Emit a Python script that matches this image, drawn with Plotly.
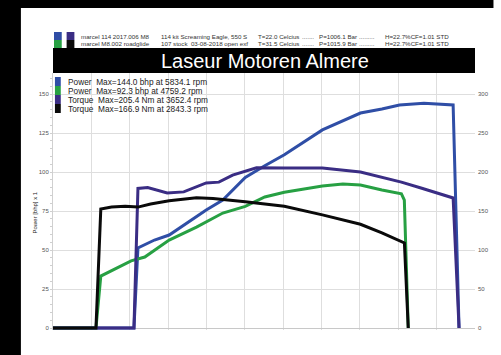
import plotly.graph_objects as go

# ---------------- data ----------------
rpm_blue = [1000, 2055, 2107, 2323, 2514, 2743, 2997, 3213, 3506, 3760, 4015, 4511,
            4778, 5007, 5287, 5516, 5834, 6011, 6215, 6292]
power_blue = [0, 0, 51.3, 56.4, 59.6, 67.3, 75.6, 82, 96.5, 104, 111, 127,
              132.7, 137.8, 140.4, 143, 144, 143.5, 143, 0]

rpm_green = [1000, 1560, 1623, 2018, 2196, 2514, 2870, 3213, 3506, 3760, 4015,
             4511, 4778, 5007, 5287, 5541, 5579, 5630]
power_green = [0, 0, 33.3, 43, 45.5, 56.4, 64.7, 73.7, 78, 84, 87,
               91, 92.3, 91.7, 88.5, 86, 82, 0]

rpm_purple = [1000, 2055, 2107, 2234, 2488, 2704, 2997, 3162, 3341, 3506, 3652,
              4015, 4511, 5007, 5287, 5541, 5796, 6215, 6292]
torque_purple = [0, 0, 179, 180, 173, 174.5, 186, 187, 196, 201, 205.4,
                 205, 205, 200, 193.6, 187, 179.5, 166.7, 0]

rpm_black = [1000, 1560, 1623, 1763, 1941, 2107, 2272, 2514, 2870, 3086, 3506,
             4015, 4511, 5007, 5287, 5580, 5630]
torque_black = [0, 0, 152.6, 155, 156, 155, 159, 163, 167, 166, 162,
                156, 145, 133, 122, 109, 0]

legend_labels = [
    "Power  Max=144.0 bhp at 5834.1 rpm",
    "Power  Max=92.3 bhp at 4759.2 rpm",
    "Torque  Max=205.4 Nm at 3652.4 rpm",
    "Torque  Max=166.9 Nm at 2843.3 rpm",
]
header_row1 = ["marcel 114 2017.006 M8", "114 kit Screaming Eagle, 550 S",
               "T=22.0 Celcius", ".......", "P=1006.1 Bar", ".........", "H=22.7%CF=1.01 STD"]
header_row2 = ["marcel M8.002 roadglide", "107 stock  03-08-2018 open exf",
               "T=31.5 Celcius", ".......", "P=1015.9 Bar", ".........", "H=22.7%CF=1.01 STD"]
title_text = "Laseur Motoren Almere"
y_title = "Power [bhp] x 1"
left_ticks = [0, 25, 50, 75, 100, 125, 150]
right_ticks = [0, 50, 100, 150, 200, 250, 300]

# ---------------- styling ----------------
C_BLUE = "#2f4ea6"
C_GREEN = "#27a043"
C_PURPLE = "#3a2d84"
C_BLACK = "#0a0a0a"

W, H = 501, 355
ML, MR, MT, MB = 53, 14, 73, 25
PW, PH = W - ML - MR, H - MT - MB


def px(x):
    return (x - ML) / PW


def py(y):
    return (H - MB - y) / PH


fig = go.Figure()
LW = 3
fig.add_trace(go.Scatter(x=rpm_blue, y=power_blue, mode="lines",
                         line=dict(color=C_BLUE, width=LW), yaxis="y"))
fig.add_trace(go.Scatter(x=rpm_green, y=power_green, mode="lines",
                         line=dict(color=C_GREEN, width=LW), yaxis="y"))
fig.add_trace(go.Scatter(x=rpm_purple, y=torque_purple, mode="lines",
                         line=dict(color=C_PURPLE, width=LW), yaxis="y2"))
fig.add_trace(go.Scatter(x=rpm_black, y=torque_black, mode="lines",
                         line=dict(color=C_BLACK, width=LW), yaxis="y2"))

ymin_px = 2.0
scale = 1.56
yl = [-ymin_px / scale, (PH - ymin_px) / scale]

shapes = []
annotations = []
FONT = "Liberation Sans, Arial"

# black photo border: left strip and top strip
shapes.append(dict(type="rect", xref="paper", yref="paper", x0=px(-5), x1=px(20),
                   y0=py(H + 5), y1=py(-5), fillcolor="black", line=dict(width=0), layer="above"))
shapes.append(dict(type="rect", xref="paper", yref="paper", x0=px(-5), x1=px(W + 5),
                   y0=py(8), y1=py(-5), fillcolor="black", line=dict(width=0), layer="above"))
# title bar
shapes.append(dict(type="rect", xref="paper", yref="paper", x0=px(53), x1=px(487),
                   y0=py(73), y1=py(48), fillcolor="black", line=dict(width=0)))
annotations.append(dict(text=title_text, xref="paper", yref="paper", x=px(271), y=py(61),
                        xanchor="center", yanchor="middle", showarrow=False,
                        font=dict(family=FONT, size=20, color="white")))

# header colour squares
for (x0, y0, c) in [(54, 32, C_BLUE), (67, 32, C_PURPLE), (54, 40, C_GREEN), (67, 40, C_BLACK)]:
    shapes.append(dict(type="rect", xref="paper", yref="paper", x0=px(x0), x1=px(x0 + 8),
                       y0=py(y0 + 8), y1=py(y0), fillcolor=c, line=dict(width=0)))
header_x = [80, 162, 262, 307, 325, 366, 392]
for row, yc in [(header_row1, 36), (header_row2, 43.5)]:
    for txt, hx in zip(row, header_x):
        annotations.append(dict(text=txt, xref="paper", yref="paper", x=px(hx), y=py(yc),
                                xanchor="left", yanchor="middle", showarrow=False,
                                font=dict(family=FONT, size=6.2, color="#333")))

# in-plot legend
leg_colors = [C_BLUE, C_GREEN, C_PURPLE, C_BLACK]
for i, (lab, c) in enumerate(zip(legend_labels, leg_colors)):
    y0 = 77 + i * 9
    shapes.append(dict(type="rect", xref="paper", yref="paper", x0=px(55), x1=px(61),
                       y0=py(y0 + 9), y1=py(y0), fillcolor=c, line=dict(width=0)))
    annotations.append(dict(text=lab, xref="paper", yref="paper", x=px(66), y=py(y0 + 4.7),
                            xanchor="left", yanchor="middle", showarrow=False,
                            font=dict(family=FONT, size=8.3, color="#222")))

# y axis title
annotations.append(dict(text=y_title, xref="paper", yref="paper", x=px(35), y=py(212),
                        xanchor="center", yanchor="middle", showarrow=False, textangle=-90,
                        font=dict(family=FONT, size=6, color="#222")))

fig.update_layout(
    width=W, height=H,
    margin=dict(l=ML, r=MR, t=MT, b=MB, pad=0),
    paper_bgcolor="white", plot_bgcolor="white",
    showlegend=False, hovermode=False,
    shapes=shapes, annotations=annotations,
    xaxis=dict(range=[1000, 6500], dtick=500, tick0=1000, showticklabels=False,
               showgrid=True, gridcolor="#dedede", gridwidth=1, zeroline=False,
               ticks="", showline=False),
    yaxis=dict(range=yl, tickvals=left_ticks, showgrid=True, gridcolor="#dedede",
               gridwidth=1, zeroline=True, zerolinecolor="#c8c8c8", zerolinewidth=1,
               showline=True, linecolor="#d0d0d0", linewidth=1,
               ticks="", ticklabelstandoff=2,
               minor=dict(ticks="outside", ticklen=2, tickcolor="#cfcfcf", dtick=5),
               tickfont=dict(family=FONT, size=6, color="#555")),
    yaxis2=dict(range=[v * 2 for v in yl], tickvals=right_ticks, overlaying="y", side="right",
                showgrid=False, zeroline=False, showline=False, ticks="",
                ticklabelstandoff=2,
                tickfont=dict(family=FONT, size=6, color="#555")),
)

fig.write_html("out.html",
               config={"displayModeBar": False, "staticPlot": True},
               post_script="document.body.style.margin='0';document.body.style.overflow='hidden';")
